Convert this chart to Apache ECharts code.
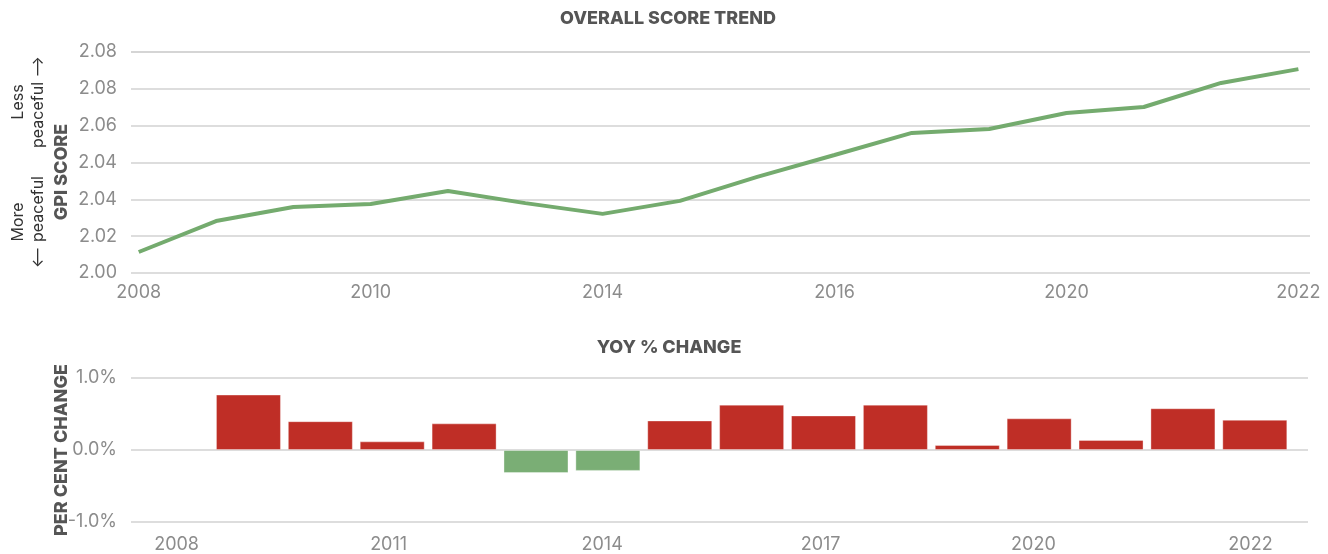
<!DOCTYPE html>
<html>
<head>
<meta charset="utf-8">
<script src="https://cdn.jsdelivr.net/npm/echarts@6/dist/echarts.min.js"></script>
<style>
	html, body { margin: 0; padding: 0; background: #ffffff; }
	#chart { width: 1328px; height: 554px; }
</style>
</head>
<body>
<div id="chart"></div>
<script>
// overall score trend, one point per year slot
const scorePos = [0, 1, 2, 3, 4, 5, 6, 7, 8, 9, 10, 11, 12, 13, 14, 15];
const gpiScore = [2.0076, 2.0188, 2.0239, 2.025, 2.0297, 2.0253, 2.0214, 2.0261, 2.0348, 2.0427, 2.0507, 2.0521, 2.0579, 2.0601, 2.0688, 2.0738];
const scoreTickPos = [0, 3, 6, 9, 12, 15];
const scoreTickLabels = ['2008', '2010', '2014', '2016', '2020', '2022'];
const scoreYLabels = ['2.00', '2.02', '2.04', '2.04', '2.06', '2.08', '2.08'];

// yoy % change, first slot empty
const yoyPos = [0, 1, 2, 3, 4, 5, 6, 7, 8, 9, 10, 11, 12, 13, 14, 15];
const yoyChange = [null, 0.77, 0.40, 0.12, 0.37, -0.32, -0.29, 0.41, 0.63, 0.48, 0.63, 0.07, 0.44, 0.14, 0.58, 0.42];
const yoyTickPos = [0, 2.95, 5.92, 8.96, 11.92, 14.94];
const yoyTickLabels = ['2008', '2011', '2014', '2017', '2020', '2022'];

const FONT = 'Inter, "Noto Sans", sans-serif';
const GRID_LINE = { color: '#d2d2d2', width: 1.5 };
const TICK_TEXT = { color: '#8c8c8c', fontSize: 18, fontFamily: FONT };
const HEAD_FONT = `800 18px ${FONT}`;
const scoreMin = 2.0;
const scoreMax = 2.08;
const scoreStep = (scoreMax - scoreMin) / 6;

const chart = echarts.init(document.getElementById('chart'), null, { renderer: 'canvas' });

const option = {
	backgroundColor: '#ffffff',
	animation: false,
	grid: [
		{ left: 131, right: 18, top: 52, bottom: 554 - 273 },
		{ left: 131, right: 20, top: 378, bottom: 554 - 525 },
	],
	xAxis: [
		{
			type: 'value',
			gridIndex: 0,
			min: -0.1,
			max: 15.15,
			axisLine: { show: false },
			axisTick: { show: false },
			splitLine: { show: false },
			axisLabel: {
				...TICK_TEXT,
				margin: 11,
				customValues: scoreTickPos,
				formatter: v => scoreTickLabels[scoreTickPos.indexOf(v)] ?? '',
			},
		},
		{
			type: 'value',
			gridIndex: 1,
			min: -0.634,
			max: 15.74,
			axisLine: { show: false },
			axisTick: { show: false },
			splitLine: { show: false },
			axisLabel: {
				...TICK_TEXT,
				margin: 14,
				customValues: yoyTickPos,
				formatter: v => yoyTickLabels[yoyTickPos.indexOf(v)] ?? '',
			},
		},
	],
	yAxis: [
		{
			type: 'value',
			gridIndex: 0,
			min: scoreMin,
			max: scoreMax,
			interval: scoreStep,
			axisLine: { show: false },
			axisTick: { show: false },
			splitLine: { lineStyle: GRID_LINE },
			axisLabel: {
				...TICK_TEXT,
				margin: 14,
				formatter: v => scoreYLabels[Math.round((v - scoreMin) / scoreStep)] ?? '',
			},
		},
		{
			type: 'value',
			gridIndex: 1,
			min: -1,
			max: 1,
			interval: 1,
			axisLine: { show: false },
			axisTick: { show: false },
			splitLine: { lineStyle: GRID_LINE },
			axisLabel: {
				...TICK_TEXT,
				margin: 14,
				formatter: v => v.toFixed(1) + '%',
			},
		},
	],
	series: [
		{
			type: 'line',
			xAxisIndex: 0,
			yAxisIndex: 0,
			data: scorePos.map((p, i) => [p, gpiScore[i]]),
			showSymbol: false,
			lineStyle: { color: '#74ab6e', width: 4 },
			z: 3,
		},
		{
			type: 'bar',
			xAxisIndex: 1,
			yAxisIndex: 1,
			barWidth: 65,
			data: yoyPos.map((p, i) => [p, yoyChange[i]]),
			itemStyle: {
				color: p => (p.value[1] < 0 ? '#7aae75' : '#bf2e26'),
				borderColor: 'rgba(255,255,255,0.35)',
				borderWidth: 1,
			},
		},
	],
	graphic: [
		{
			type: 'text',
			x: 668,
			y: 19,
			style: { text: 'OVERALL SCORE TREND', font: HEAD_FONT, fill: '#555555', align: 'center', verticalAlign: 'middle' },
		},
		{
			type: 'text',
			x: 669,
			y: 348,
			style: { text: 'YOY % CHANGE', font: HEAD_FONT, fill: '#555555', align: 'center', verticalAlign: 'middle' },
		},
		{
			type: 'text',
			x: 62,
			y: 172,
			rotation: Math.PI / 2,
			style: { text: 'GPI SCORE', font: HEAD_FONT, fill: '#555555', align: 'center', verticalAlign: 'middle' },
		},
		{
			type: 'text',
			x: 62,
			y: 450,
			rotation: Math.PI / 2,
			style: { text: 'PER CENT CHANGE', font: HEAD_FONT, fill: '#555555', align: 'center', verticalAlign: 'middle' },
		},
		{
			type: 'text',
			x: 28,
			y: 102,
			rotation: Math.PI / 2,
			style: {
				text: 'Less\npeaceful \u27F6',
				font: `400 16px ${FONT}`,
				lineHeight: 20,
				fill: '#333333',
				align: 'center',
				verticalAlign: 'middle',
			},
		},
		{
			type: 'text',
			x: 28,
			y: 222,
			rotation: Math.PI / 2,
			style: {
				text: 'More\n\u27F5 peaceful',
				font: `400 16px ${FONT}`,
				lineHeight: 20,
				fill: '#333333',
				align: 'center',
				verticalAlign: 'middle',
			},
		},
	],
};

chart.setOption(option);
</script>
</body>
</html>
